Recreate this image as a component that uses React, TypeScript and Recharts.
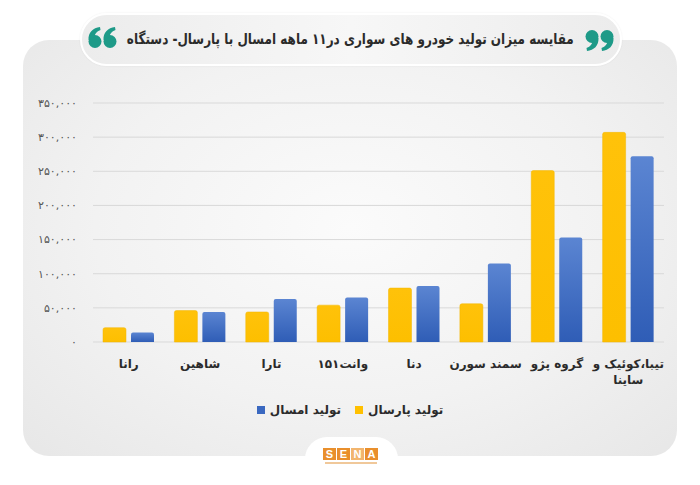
import React from 'react';
import { BarChart, Bar, XAxis, YAxis, CartesianGrid } from 'recharts';

const categories = ['رانا', 'شاهین', 'تارا', 'وانت۱۵۱', 'دنا', 'سمند سورن', 'گروه پژو', 'تیبا،کوئیک و\nساینا'];
const lastYear = [21000, 46000, 44000, 54000, 79000, 56000, 251000, 307000];
const thisYear = [14000, 44000, 63000, 65000, 82000, 115000, 153000, 272000];
const yTicks = [0, 50000, 100000, 150000, 200000, 250000, 300000, 350000];
const seriesNames = { last: 'تولید پارسال', current: 'تولید امسال' };
const title = 'مقایسه میزان تولید خودرو های سواری در۱۱ ماهه امسال با پارسال- دستگاه';

const data = categories.map((c, i) => ({ name: c, last: lastYear[i], current: thisYear[i] }));

const FONT = '"DejaVu Sans", "Noto Sans", sans-serif';
const toFa = (s: string) => s.replace(/\d/g, (d) => '۰۱۲۳۴۵۶۷۸۹'[+d]);

function XTick(props: any) {
  const { x, y, payload } = props;
  const lines = String(payload.value).split('\n');
  return (
    <text x={x} y={y} textAnchor="middle" fontFamily={FONT} fontWeight="bold" fontSize={12} fill="#2b2b2b">
      {lines.map((l, i) => (
        <tspan key={i} x={x} dy={i === 0 ? 18 : 16} direction="rtl">{l}</tspan>
      ))}
    </text>
  );
}

function QuoteMark({ x, y, flip }: { x: number; y: number; flip?: boolean }) {
  const one = (cx: number) =>
    `M ${cx - 6.5} ${13} C ${cx - 6.8} ${5} ${cx - 2} ${1} ${cx + 5} ${0} L ${cx + 5.5} ${3} C ${cx + 1.5} ${4.5} ${cx - 0.5} ${7} ${cx - 0.2} ${10} Z`;
  return (
    <svg width={32} height={22} style={{ position: 'absolute', left: x, top: y, transform: flip ? 'rotate(180deg)' : undefined }}>
      <g fill="#1e9a88">
        <circle cx={8} cy={14.5} r={6.5} />
        <path d={one(8)} />
        <circle cx={23} cy={14.5} r={6.5} />
        <path d={one(23)} />
      </g>
    </svg>
  );
}

export default function App() {
  return (
    <div style={{ position: 'absolute', left: 0, top: 0, width: 700, height: 485, background: '#fff', overflow: 'hidden', fontFamily: FONT }}>
      <div style={{ position: 'absolute', left: 23, top: 40, width: 654, height: 416, borderRadius: 26, background: 'radial-gradient(ellipse at 50% 45%, #fbfbfb 0%, #f2f2f2 55%, #e7e7e7 100%)' }} />
      <div style={{ position: 'absolute', left: 80, top: 13, width: 538, height: 49, borderRadius: 27, background: 'linear-gradient(90deg, #ececec 0%, #f7f7f7 50%, #ececec 100%)', border: '2px solid #fff', boxShadow: '0 0 2px rgba(0,0,0,0.08)' }} />
      <div style={{ position: 'absolute', left: 120, top: 24, width: 460, height: 30, display: 'flex', alignItems: 'center', justifyContent: 'center', whiteSpace: 'nowrap' }}>
        <span style={{ display: 'inline-block', direction: 'rtl', fontWeight: 'bold', fontSize: 15, color: '#2b2b2b', transform: 'scaleX(0.8)' }}>{title}</span>
      </div>
      <QuoteMark x={87} y={27} />
      <QuoteMark x={583} y={29} flip />

      <div style={{ position: 'absolute', left: 0, top: 0 }}>
        <BarChart width={700} height={485} data={data} margin={{ top: 103, right: 36, bottom: 113, left: 33 }} barSize={23} barGap={5}>
          <defs>
            <linearGradient id="gBlue" x1="0" y1="0" x2="0" y2="1">
              <stop offset="0%" stopColor="#5b85d2" />
              <stop offset="100%" stopColor="#2f5db6" />
            </linearGradient>
            <linearGradient id="gYellow" x1="0" y1="0" x2="0" y2="1">
              <stop offset="0%" stopColor="#ffc20a" />
              <stop offset="100%" stopColor="#fdbf00" />
            </linearGradient>
          </defs>
          <CartesianGrid vertical={false} stroke="#d9d9d9" strokeWidth={1} />
          <XAxis dataKey="name" axisLine={false} tickLine={false} tick={<XTick />} interval={0} height={30} />
          <YAxis
            domain={[0, 350000]}
            ticks={yTicks}
            width={60}
            axisLine={false}
            tickLine={false}
            tickMargin={10}
            tick={{ fontSize: 11, fill: '#555', fontFamily: FONT }}
            tickFormatter={(v: number) => toFa(v.toLocaleString('en-US'))}
          />
          <Bar dataKey="last" name={seriesNames.last} fill="url(#gYellow)" stroke="#f2b600" strokeWidth={0.5} radius={[2, 2, 0, 0]} isAnimationActive={false} />
          <Bar dataKey="current" name={seriesNames.current} fill="url(#gBlue)" radius={[2, 2, 0, 0]} isAnimationActive={false} />
        </BarChart>
      </div>

      <div style={{ position: 'absolute', left: 250, top: 400, width: 200, height: 20, display: 'flex', direction: 'rtl', alignItems: 'center', justifyContent: 'center', gap: 14, fontWeight: 'bold', fontSize: 12, color: '#2b2b2b', whiteSpace: 'nowrap' }}>
        <span style={{ display: 'flex', alignItems: 'center', gap: 5 }}>
          <span>{seriesNames.last}</span>
          <span style={{ width: 8, height: 8, background: '#ffc000', display: 'inline-block' }} />
        </span>
        <span style={{ display: 'flex', alignItems: 'center', gap: 5 }}>
          <span>{seriesNames.current}</span>
          <span style={{ width: 8, height: 8, background: '#3a68c0', display: 'inline-block' }} />
        </span>
      </div>

      <div style={{ position: 'absolute', left: 305, top: 437, width: 93, height: 60, background: '#fff', borderRadius: '22px 22px 0 0' }} />
      <div style={{ position: 'absolute', left: 323, top: 448, display: 'flex', gap: 1 }}>
        {['S', 'E', 'N', 'A'].map((l, i) => (
          <div key={l} style={{ width: 13, height: 12, background: i === 2 ? '#f2b56e' : '#e98f2c', color: '#fff', fontFamily: '"Liberation Sans", Arial, sans-serif', fontWeight: 'bold', fontSize: 11, lineHeight: '12px', textAlign: 'center' }}>{l}</div>
        ))}
      </div>
      <div style={{ position: 'absolute', left: 325, top: 462, width: 52, height: 2, background: '#f0c89a' }} />
    </div>
  );
}
